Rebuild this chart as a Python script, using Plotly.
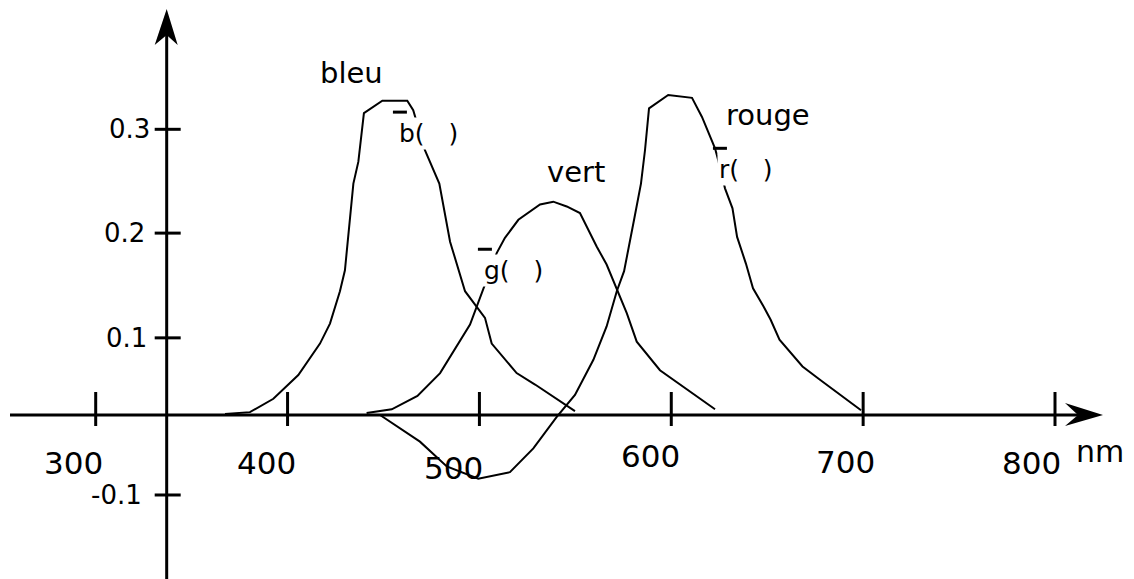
import plotly.graph_objects as go

wl_bleu = [367.4, 380.4, 392.6, 405.6, 416.9, 422.1, 427.3, 429.9, 434.3, 436.9, 439.8,
           449.4, 462.4, 465.5, 471.6, 479.1, 484.7, 492.5, 502.9, 506.4, 519.4, 529.0, 549.8]
val_bleu = [0.001, 0.003, 0.017, 0.042, 0.075, 0.096, 0.130, 0.152, 0.243, 0.266, 0.317,
            0.330, 0.330, 0.320, 0.278, 0.243, 0.182, 0.130, 0.102, 0.075, 0.044, 0.032, 0.004]

wl_vert = [441.2, 454.3, 467.7, 479.5, 495.1, 498.6, 501.7, 509.0, 513.3, 520.3, 531.6,
           538.5, 545.5, 552.4, 561.1, 566.3, 576.8, 582.0, 594.1, 622.8]
val_vert = [0.002, 0.006, 0.020, 0.044, 0.095, 0.114, 0.131, 0.170, 0.186, 0.205, 0.221,
            0.224, 0.219, 0.212, 0.177, 0.158, 0.107, 0.077, 0.047, 0.006]

wl_rouge = [448.2, 469.0, 483.0, 499.4, 515.9, 528.1, 540.3, 549.8, 559.4, 566.3, 571.6,
            575.4, 580.6, 584.2, 586.3, 588.4, 598.4, 610.8, 616.0, 619.4, 622.8, 624.4,
            628.0, 631.9, 634.3, 638.9, 642.6, 648.1, 651.8, 656.4, 668.4, 677.5, 698.9]
val_rouge = [0.000, -0.028, -0.054, -0.067, -0.060, -0.035, -0.002, 0.021, 0.058, 0.093, 0.130,
             0.151, 0.205, 0.243, 0.278, 0.322, 0.336, 0.333, 0.313, 0.296, 0.280, 0.268,
             0.238, 0.217, 0.187, 0.159, 0.133, 0.114, 0.100, 0.079, 0.051, 0.037, 0.005]

noms = ["bleu", "vert", "rouge"]
symboles = ["b(   )", "g(   )", "r(   )"]
x_ticks = [300, 400, 500, 600, 700, 800]
x_tick_labels = ["300", "400", "500", "600", "700", "800"]
y_tick_labels = ["0.3", "0.2", "0.1", "-0.1"]
unite = "nm"

# l'échelle verticale du croquis n'est pas régulière : graduations là où il les a mises
y_tick_pos = [0.300, 0.191, 0.081, -0.084]

# géométrie : la page garde sa marge de 8 px, la figure occupe le reste
PAGE_MARGIN = 8
W, H = 1134 - PAGE_MARGIN, 579 - PAGE_MARGIN
PX_NM = 1.9186          # pixels par nm
PX_VAL = 952.3          # pixels par unité
AXIS_ROW = 415 - PAGE_MARGIN   # ligne de l'axe des nm, en pixels depuis le haut
X_RANGE = [250.12 + PAGE_MARGIN / PX_NM, 250.12 + 1134 / PX_NM]
Y_RANGE = [-(H - AXIS_ROW) / PX_VAL, AXIS_ROW / PX_VAL]
Y_AXIS_AT = 337.0       # l'axe vertical coupe l'axe des nm ici


def dx(p):
    return p / PX_NM


def dy(p):
    return p / PX_VAL


def path(points):
    return "M " + " L ".join(f"{x:.3f},{y:.5f}" for x, y in points) + " Z"


fig = go.Figure()
for wl, val in [(wl_bleu, val_bleu), (wl_vert, val_vert), (wl_rouge, val_rouge)]:
    fig.add_trace(go.Scatter(x=wl, y=val, mode="lines",
                             line=dict(color="black", width=2), hoverinfo="skip"))

shapes = []
line = dict(color="black", width=3)
x_start, x_tip = 250.12 + dx(10), 250.12 + dx(1103)
y_tip = 0 + dy(415 - 9)

# axes
shapes.append(dict(type="line", xref="x", yref="y", x0=x_start, x1=x_tip - dx(20), y0=0, y1=0, line=line))
shapes.append(dict(type="line", xref="x", yref="y", x0=Y_AXIS_AT, x1=Y_AXIS_AT,
                   y0=Y_RANGE[0], y1=y_tip - dy(20), line=line))
# flèches
shapes.append(dict(type="path", xref="x", yref="y", fillcolor="black", line=dict(width=0),
                   path=path([(x_tip, 0), (x_tip - dx(38), dy(12)), (x_tip - dx(25), 0),
                              (x_tip - dx(38), -dy(11))])))
shapes.append(dict(type="path", xref="x", yref="y", fillcolor="black", line=dict(width=0),
                   path=path([(Y_AXIS_AT, y_tip), (Y_AXIS_AT - dx(12), y_tip - dy(36)),
                              (Y_AXIS_AT, y_tip - dy(26)), (Y_AXIS_AT + dx(11), y_tip - dy(36))])))
# graduations
for t in x_ticks:
    shapes.append(dict(type="line", xref="x", yref="y", x0=t, x1=t, y0=-dy(11), y1=dy(23), line=line))
for t in y_tick_pos:
    shapes.append(dict(type="line", xref="x", yref="y", x0=Y_AXIS_AT - dx(12), x1=Y_AXIS_AT + dx(14),
                       y0=t, y1=t, line=line))

font = dict(family="DejaVu Sans", color="black")
ann = []
x_lab_dx = [-22, -21, -26, -21, -18, -24]
x_lab_dy = [-48, -48, -53, -41, -47, -48]
for t, lab, ox, oy in zip(x_ticks, x_tick_labels, x_lab_dx, x_lab_dy):
    ann.append(dict(x=t, y=0, xref="x", yref="y", text=lab, showarrow=False,
                    xshift=ox, yshift=oy, font=dict(font, size=31)))
ann.append(dict(x=823.2, y=0, xref="x", yref="y", text=unite, showarrow=False,
                yshift=-36, font=dict(font, size=30)))

y_lab_dx = [-15, -20, -18, -23]
for t, lab, ox in zip(y_tick_pos, y_tick_labels, y_lab_dx):
    ann.append(dict(x=Y_AXIS_AT, y=t, xref="x", yref="y", text=lab, showarrow=False,
                    xanchor="right", xshift=ox, font=dict(font, size=26)))

# noms des courbes
nom_pos = [(433.1, 0.359), (550.1, 0.255), (650.6, 0.315)]
for (x, y), nom in zip(nom_pos, noms):
    ann.append(dict(x=x, y=y, xref="x", yref="y", text=nom, showarrow=False,
                    font=dict(font, size=29)))

# symboles avec barre au-dessus ; fond blanc pour couper la courbe
sym_pos = [(457.0, 0.296), (501.3, 0.152), (623.8, 0.258)]
for (x, y), sym in zip(sym_pos, symboles):
    ann.append(dict(x=x, y=y, xref="x", yref="y", text=sym, showarrow=False,
                    xanchor="left", bgcolor="white", font=dict(font, size=25)))
    shapes.append(dict(type="line", xref="x", yref="y", x0=x - dx(4), x1=x + dx(10),
                       y0=y + dy(21), y1=y + dy(21), line=line))

fig.update_layout(
    width=W, height=H, margin=dict(l=0, r=0, t=0, b=0),
    paper_bgcolor="white", plot_bgcolor="white", showlegend=False,
    xaxis=dict(range=X_RANGE, visible=False, fixedrange=True),
    yaxis=dict(range=Y_RANGE, visible=False, fixedrange=True),
    shapes=shapes, annotations=ann,
)

fig.write_html("out.html")
